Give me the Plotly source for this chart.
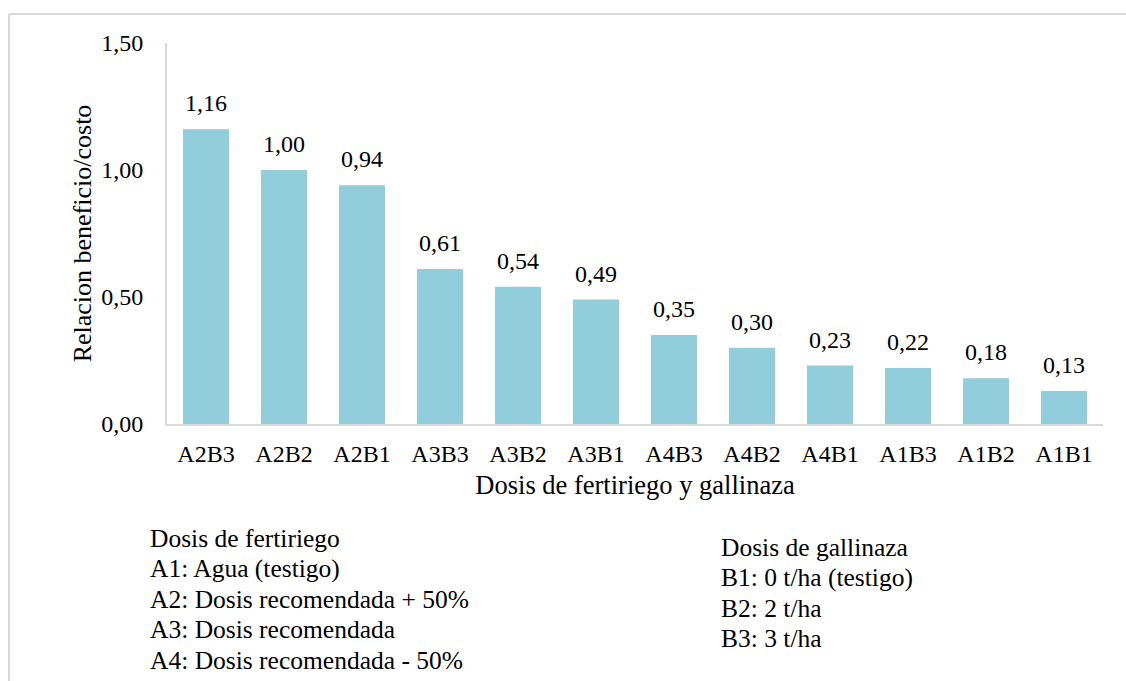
import plotly.graph_objects as go

categories = ["A2B3", "A2B2", "A2B1", "A3B3", "A3B2", "A3B1",
              "A4B3", "A4B2", "A4B1", "A1B3", "A1B2", "A1B1"]
values = [1.16, 1.00, 0.94, 0.61, 0.54, 0.49, 0.35, 0.30, 0.23, 0.22, 0.18, 0.13]
y_ticks = [0, 0.5, 1.0, 1.5]
y_ticktext = ["0,00", "0,50", "1,00", "1,50"]

legend_a = ["Dosis de fertiriego", "A1: Agua (testigo)", "A2: Dosis recomendada + 50%",
            "A3: Dosis recomendada", "A4: Dosis recomendada - 50%"]
legend_b = ["Dosis de gallinaza", "B1: 0 t/ha (testigo)", "B2: 2 t/ha", "B3: 3 t/ha"]

FONT = "Liberation Serif, Times New Roman, Times, serif"
W, H = 1126, 681
L, R, T, B = 167, 1103, 43, 424


def px(xp):
    return (xp - L) / (R - L)


def py(yp):
    return (B - yp) / (B - T)


fig = go.Figure()
fig.add_trace(go.Bar(
    x=categories, y=values,
    marker=dict(color="#92CDDC", line=dict(width=0)),
    hoverinfo="skip",
))

annotations = []
for c, v in zip(categories, values):
    annotations.append(dict(
        x=c, y=v, xref="x", yref="y",
        text=f"{v:.2f}".replace(".", ","),
        showarrow=False, yanchor="bottom", yshift=11,
        font=dict(family=FONT, size=24, color="black"),
    ))

for i, t in enumerate(legend_a):
    annotations.append(dict(
        x=px(148), y=py(538 + i * 30.5), xref="paper", yref="paper",
        text=t, showarrow=False, xanchor="left", yanchor="middle",
        font=dict(family=FONT, size=25.5, color="black"),
    ))
for i, t in enumerate(legend_b):
    annotations.append(dict(
        x=px(719), y=py(547 + i * 30.5), xref="paper", yref="paper",
        text=t, showarrow=False, xanchor="left", yanchor="middle",
        font=dict(family=FONT, size=25.5, color="black"),
    ))

shapes = [
    dict(type="line", xref="paper", yref="paper",
         x0=px(9), y0=py(690), x1=px(9), y1=py(14),
         line=dict(color="#D9D9D9", width=2)),
    dict(type="line", xref="paper", yref="paper",
         x0=px(9), y0=py(14), x1=px(1130), y1=py(14),
         line=dict(color="#D9D9D9", width=2)),
]

fig.update_layout(
    width=W, height=H,
    margin=dict(l=L, r=W - R, t=T, b=H - B),
    paper_bgcolor="white", plot_bgcolor="white",
    showlegend=False,
    bargap=0.41,
    font=dict(family=FONT, size=24, color="black"),
    annotations=annotations,
    shapes=shapes,
    xaxis=dict(
        showline=True, linecolor="#D9D9D9", linewidth=2,
        showgrid=False, ticks="", zeroline=False,
        tickfont=dict(family=FONT, size=24, color="black"),
        ticklabelstandoff=7,
        title=dict(text="Dosis de fertiriego y gallinaza",
                   font=dict(family=FONT, size=26.5, color="black"),
                   standoff=10),
    ),
    yaxis=dict(
        range=[0, 1.5], tickvals=y_ticks, ticktext=y_ticktext,
        showline=True, linecolor="#D9D9D9", linewidth=2,
        showgrid=False, ticks="", zeroline=False,
        tickfont=dict(family=FONT, size=24, color="black"),
        ticklabelstandoff=17,
        title=dict(text="Relacion beneficio/costo",
                   font=dict(family=FONT, size=26, color="black"),
                   standoff=2),
    ),
)

fig.write_html("out.html",
               config={"displayModeBar": False},
               post_script="document.body.style.margin='0';document.body.style.padding='0';")
